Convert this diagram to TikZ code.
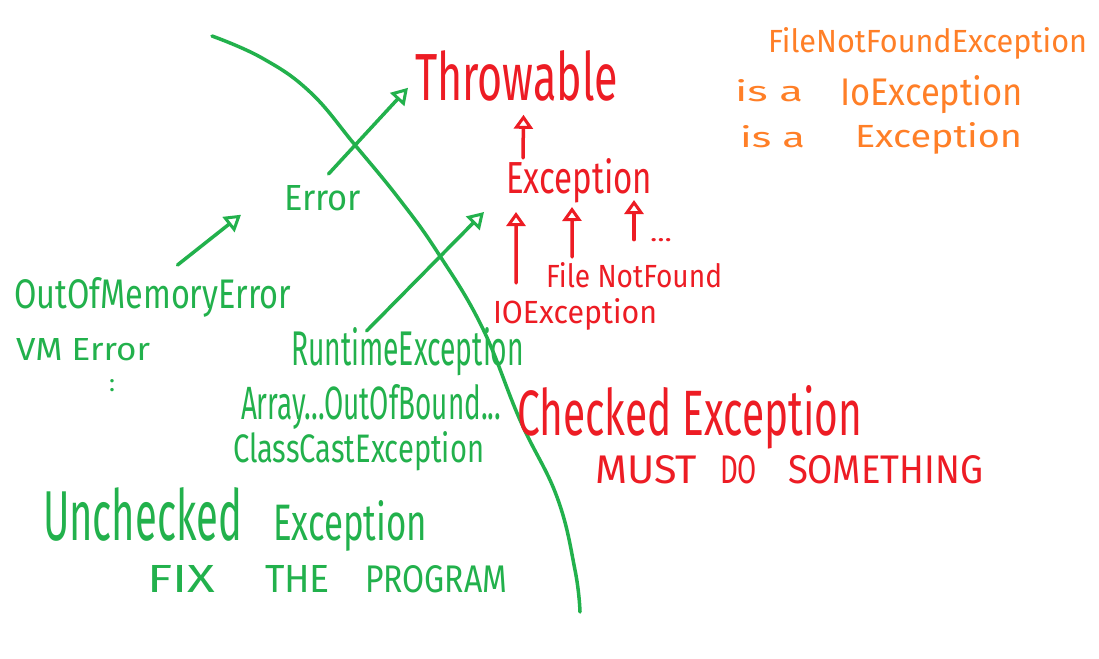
\documentclass[tikz,border=0pt]{standalone}
\usepackage{fontspec}
\setmainfont{Fira Sans}
\usetikzlibrary{arrows.meta}
\definecolor{pred}{HTML}{ED1C24}
\definecolor{pgreen}{HTML}{22B14C}
\definecolor{porange}{HTML}{FF7F27}
\newcommand\hw[3]{\resizebox{#1pt}{#2pt}{#3}}
\tikzset{
  txt/.style={inner sep=0pt, outer sep=0pt, anchor=base west},
  redtxt/.style={txt, text=pred},
  greentxt/.style={txt, text=pgreen},
  orangetxt/.style={txt, text=porange},
  garrow/.style={draw=pgreen, line width=3.5pt, line cap=round, line join=round,
    -{Triangle[open, length=16pt, width=19pt, line width=3pt]}},
  rarrow/.style={draw=pred, line width=3.5pt, line cap=round, line join=round,
    -{Triangle[open, length=14pt, width=19pt, line width=3pt]}},
  divider/.style={draw=pgreen, line width=3.5pt, line cap=round}
}
\begin{document}
\begin{tikzpicture}[x=1pt, y=-1pt]
\useasboundingbox[fill=white] (0,0) rectangle (1099,658);

% dividing curve
\draw[divider] plot[smooth, tension=0.7] coordinates {(212,36) (262,58) (310,92) (355,145) (400,200) (438,253) (482,327) (520,420) (557,497) (575,570) (580,612)};

% red (checked) side
\node[redtxt] (thr) at (415,100) {\hw{203}{50}{Throwable}};
\node[redtxt] (exc) at (506,193) {\hw{146}{35}{Exception}};
\node[redtxt] (fnf) at (546,287) {\hw{176}{25}{File NotFound}};
\node[redtxt] (io) at (493,323) {\hw{164}{25}{IOException}};
\node[redtxt] (more) at (650,241) {\hw{22}{3}{...}};
\node[redtxt] (chk) at (517,435) {\hw{345}{50}{Checked Exception}};
\node[redtxt] (must) at (595,483) {\hw{102}{28}{MUST}\hspace{23pt}\hw{37}{28}{DO}\hspace{31pt}\hw{195}{28}{SOMETHING}};

\draw[rarrow] ([xshift=-56pt]exc.north) -- ([xshift=7pt,yshift=-14pt]thr.south);
\draw[rarrow] ([xshift=-59pt,yshift=15pt]io.north) -- ([xshift=10pt,yshift=-19pt]exc.base west);
\draw[rarrow] ([xshift=-62pt,yshift=5pt]fnf.north) -- ([xshift=66pt,yshift=-14pt]exc.base west);
\draw[rarrow] ([xshift=-16pt]more.west) -- ([xshift=128pt,yshift=-7pt]exc.base west);

% green (unchecked) side
\node[greentxt] (err) at (284,210) {\hw{77}{25}{Error}};
\node[greentxt] (oom) at (14,308) {\hw{277}{31}{OutOfMemoryError}};
\node[greentxt] (vm) at (16,360) {\hw{134}{22}{VM Error}};
\node[greentxt] (vd) at (109,391) {\hw{6}{12}{:}};
\node[greentxt] (rt) at (291,365) {\hw{233}{38}{RuntimeException}};
\node[greentxt] (arr) at (241,419) {\hw{260}{35}{Array...OutOfBound...}};
\node[greentxt] (cc) at (233,462) {\hw{251}{31}{ClassCastException}};
\node[greentxt] (unc) at (43,540) {\hw{199}{53}{Unchecked}\hspace{31pt}\hw{154}{40}{Exception}};
\node[greentxt] (fix) at (147,592) {\hw{68}{27}{FIX}\hspace{50pt}\hw{65}{27}{THE}\hspace{35pt}\hw{142}{27}{PROGRAM}};

\draw[garrow] ([xshift=6pt,yshift=11pt]err.north) -- ([xshift=-7pt,yshift=13pt]thr.south west);
\draw[garrow] ([xshift=25pt,yshift=12pt]oom.north) -- ([xshift=-43pt,yshift=-17pt]err.west);
\draw[garrow] ([xshift=-41pt,yshift=-4pt]rt.north) -- ([xshift=-22pt,yshift=-19pt]exc.base west);

% orange note
\node[orangetxt] (fnfe) at (768,53) {\hw{319}{25}{FileNotFoundException}};
\node[orangetxt] (isa1) at (735,102) {\hw{68}{22}{is a}};
\node[orangetxt] (ioe) at (840,105) {\hw{183}{30}{IoException}};
\node[orangetxt] (isa2) at (740,147) {\hw{65}{22}{is a}};
\node[orangetxt] (ex2) at (855,147) {\hw{167}{25}{Exception}};
\end{tikzpicture}
\end{document}
